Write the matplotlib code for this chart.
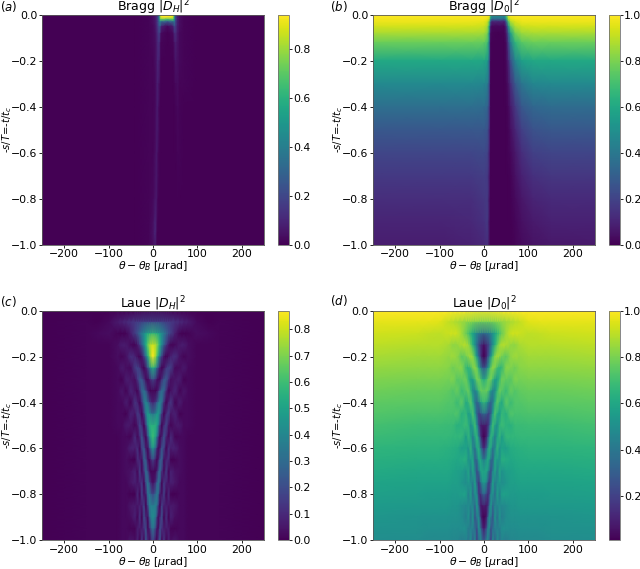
import numpy as np
import matplotlib
matplotlib.use('Agg')
import matplotlib.pyplot as plt

# --- values ---
# Laue panels: half tables, the picture is symmetric about theta=0
laue_x = [0, 4, 8, 12, 16, 20, 25, 30, 35, 40, 50, 60, 70, 80, 100, 125, 150, 250]
laue_t = [0, .05, .1, .15, .2, .25, .3, .35, .4, .45, .5, .55, .6, .65, .7, .75, .8, .85, .9, .95, 1.0]

laue_h = [
    [0, 0, 0, 0, 0, 0, 0, 0, 0, 0, 0, 0, 0, 0, 0, 0, 0, 0],
    [.18, .18, .18, .18, .17, .17, .16, .15, .15, .14, .12, .10, .08, .06, .02, .00, .01, .00],
    [.56, .55, .53, .51, .47, .42, .36, .29, .22, .16, .07, .01, .00, .01, .03, .02, .01, .00],
    [.80, .79, .75, .66, .54, .41, .26, .14, .05, .01, .02, .06, .07, .03, .01, .01, .01, .00],
    [.87, .80, .67, .50, .32, .17, .04, .00, .03, .08, .12, .04, .01, .03, .01, .01, .01, .00],
    [.54, .49, .35, .19, .06, .00, .04, .13, .18, .16, .02, .03, .06, .02, .01, .01, .01, .00],
    [.19, .15, .07, .01, .02, .11, .23, .24, .13, .03, .05, .07, .00, .02, .01, .01, .01, .00],
    [.01, .00, .01, .09, .22, .31, .28, .11, .00, .04, .09, .01, .05, .02, .01, .01, .01, .00],
    [.08, .11, .20, .33, .40, .33, .11, .00, .08, .14, .00, .07, .02, .02, .01, .01, .01, .00],
    [.33, .36, .44, .48, .36, .15, .00, .10, .16, .05, .08, .00, .02, .02, .01, .01, .01, .00],
    [.55, .56, .54, .40, .16, .00, .10, .19, .05, .01, .05, .06, .02, .02, .01, .01, .01, .00],
    [.60, .55, .42, .18, .01, .07, .23, .09, .01, .11, .01, .02, .02, .01, .01, .01, .01, .00],
    [.45, .36, .18, .01, .06, .23, .17, .00, .12, .07, .08, .03, .02, .01, .01, .01, .01, .00],
    [.18, .12, .01, .05, .23, .27, .03, .08, .11, .00, .01, .03, .02, .01, .01, .01, .01, .00],
    [.02, .00, .04, .21, .31, .13, .02, .16, .01, .08, .04, .03, .02, .01, .01, .01, .01, .00],
    [.03, .07, .21, .35, .22, .01, .14, .08, .04, .08, .05, .02, .02, .01, .01, .01, .01, .00],
    [.19, .24, .35, .31, .06, .04, .17, .00, .11, .00, .00, .02, .02, .01, .01, .01, .01, .00],
    [.36, .38, .37, .16, .00, .17, .07, .07, .05, .06, .05, .02, .02, .01, .01, .01, .01, .00],
    [.42, .39, .24, .02, .09, .21, .00, .13, .00, .08, .03, .02, .02, .01, .01, .01, .01, .00],
    [.33, .26, .08, .02, .21, .12, .06, .06, .07, .01, .01, .02, .02, .01, .01, .01, .01, .00],
    [.16, .09, .00, .13, .22, .01, .14, .00, .08, .03, .05, .02, .02, .01, .01, .01, .01, .00],
]

laue_0 = [
    [1, 1, 1, 1, 1, 1, 1, 1, 1, 1, 1, 1, 1, 1, 1, 1, 1, 1],
    [.79, .79, .79, .79, .80, .80, .81, .82, .82, .83, .85, .87, .89, .91, .95, .96, .96, .96],
    [.38, .39, .41, .43, .47, .52, .58, .65, .71, .77, .86, .92, .93, .92, .90, .91, .92, .93],
    [.06, .11, .15, .24, .36, .49, .64, .76, .85, .89, .88, .84, .83, .87, .89, .89, .89, .90],
    [.01, .05, .19, .36, .54, .70, .83, .87, .84, .79, .75, .83, .86, .84, .86, .86, .86, .87],
    [.28, .33, .48, .64, .78, .84, .80, .70, .65, .67, .82, .81, .78, .82, .83, .83, .83, .84],
    [.61, .65, .74, .80, .79, .69, .57, .56, .67, .78, .76, .74, .81, .79, .80, .80, .80, .81],
    [.77, .78, .77, .68, .54, .45, .48, .66, .78, .74, .68, .77, .73, .76, .77, .77, .77, .78],
    [.67, .635, .54, .40, .32, .40, .635, .755, .67, .60, .755, .68, .73, .73, .745, .745, .745, .755],
    [.36, .33, .24, .20, .33, .56, .73, .62, .55, .67, .64, .73, .71, .71, .72, .72, .72, .73],
    [.09, .08, .10, .26, .53, .705, .59, .49, .65, .69, .65, .64, .68, .68, .69, .69, .69, .705],
    [.01, .05, .20, .475, .67, .60, .42, .58, .67, .555, .67, .66, .66, .67, .67, .67, .67, .68],
    [.135, .24, .45, .645, .59, .39, .46, .657, .52, .58, .56, .62, .63, .64, .645, .645, .645, .655],
    [.42, .49, .62, .575, .36, .315, .60, .54, .505, .635, .62, .60, .61, .62, .625, .625, .625, .635],
    [.59, .61, .56, .36, .24, .45, .59, .42, .60, .51, .56, .57, .59, .60, .60, .60, .60, .61],
    [.55, .505, .33, .16, .32, .58, .42, .49, .54, .49, .53, .565, .565, .58, .58, .58, .58, .59],
    [.335, .27, .135, .185, .495, .52, .36, .57, .43, .57, .57, .545, .545, .555, .555, .555, .56, .57],
    [.10, .075, .09, .35, .55, .34, .46, .46, .49, .475, .49, .525, .525, .54, .54, .54, .54, .55],
    [.01, .03, .22, .50, .415, .26, .53, .36, .53, .43, .49, .505, .505, .515, .515, .515, .52, .53],
    [.085, .175, .41, .49, .24, .36, .44, .44, .425, .50, .50, .49, .49, .50, .50, .50, .505, .515],
    [.285, .38, .497, .325, .205, .485, .31, .497, .39, .457, .43, .47, .47, .48, .48, .48, .49, .497],
]

# Bragg reflected
bragg_h_x = [-250, -40, -10, 0, 5, 8, 11, 14, 17, 20, 33, 45, 48, 51, 55, 60, 70, 100, 250]
bragg_h_t = [0, .01, .02, .03, .05, .08, .12, .2, .3, .4, .6, .8, .9, .95, 1.0]
bragg_h = [
    [0, 0, .01, .03, .06, .10, .18, .45, .85, .94, .94, .90, .55, .20, .08, .03, .01, 0, 0],
    [0, 0, .01, .03, .06, .10, .18, .45, .85, .94, .94, .90, .55, .20, .08, .03, .01, 0, 0],
    [0, 0, .01, .03, .06, .10, .18, .40, .70, .72, .65, .70, .50, .20, .08, .03, .01, 0, 0],
    [0, 0, .01, .03, .06, .10, .18, .35, .42, .32, .25, .32, .38, .20, .08, .03, .01, 0, 0],
    [0, 0, .01, .02, .05, .09, .15, .25, .22, .08, .02, .08, .20, .16, .07, .03, .01, 0, 0],
    [0, 0, .01, .02, .04, .07, .12, .18, .08, .02, 0, .02, .10, .12, .06, .02, .01, 0, 0],
    [0, 0, .01, .02, .03, .06, .10, .13, .03, .01, 0, .01, .05, .08, .05, .02, .01, 0, 0],
    [0, 0, .01, .01, .03, .05, .10, .08, .02, 0, 0, 0, .02, .05, .04, .02, .01, 0, 0],
    [0, 0, .01, .01, .02, .05, .08, .04, .01, 0, 0, 0, .01, .02, .03, .01, .01, 0, 0],
    [0, 0, .01, .01, .02, .05, .07, .02, 0, 0, 0, 0, 0, .01, .02, .01, 0, 0, 0],
    [0, 0, .01, .01, .03, .06, .04, .01, 0, 0, 0, 0, 0, 0, .01, .01, 0, 0, 0],
    [0, 0, .01, .02, .05, .06, .02, 0, 0, 0, 0, 0, 0, 0, 0, 0, 0, 0, 0],
    [0, 0, .01, .03, .09, .05, .01, 0, 0, 0, 0, 0, 0, 0, 0, 0, 0, 0, 0],
    [0, 0, .01, .04, .10, .04, 0, 0, 0, 0, 0, 0, 0, 0, 0, 0, 0, 0, 0],
    [0, 0, .01, .03, .06, .02, 0, 0, 0, 0, 0, 0, 0, 0, 0, 0, 0, 0, 0],
]

# Bragg transmitted
bragg_0_x = [-250, -100, -30, 0, 8, 12, 15, 18, 33, 46, 50, 55, 60, 70, 85, 110, 150, 250]
bragg_0_t = [0, .01, .02, .03, .05, .08, .12, .2, .3, .4, .5, .6, .7, .8, .9, 1.0]
bragg_0 = [
    [1, 1, 1, 1, 1, .98, .70, .45, .45, .45, .70, .95, 1, 1, 1, 1, 1, 1],
    [.99, .99, .99, .99, .98, .95, .65, .45, .45, .45, .65, .92, .98, .99, .99, .99, .99, .99],
    [.98, .98, .98, .98, .96, .88, .50, .30, .32, .30, .50, .85, .94, .97, .98, .98, .98, .98],
    [.97, .97, .97, .96, .92, .75, .30, .10, .10, .10, .30, .72, .88, .94, .97, .97, .97, .97],
    [.93, .93, .93, .92, .86, .60, .12, .02, .02, .02, .12, .50, .76, .88, .92, .93, .93, .93],
    [.87, .87, .87, .86, .79, .48, .05, .01, 0, .01, .06, .30, .56, .78, .85, .87, .87, .87],
    [.77, .77, .77, .76, .70, .40, .03, 0, 0, 0, .03, .20, .42, .65, .74, .77, .77, .77],
    [.60, .60, .60, .59, .55, .32, .02, 0, 0, 0, .02, .10, .25, .45, .56, .595, .60, .60],
    [.47, .47, .47, .46, .42, .24, .01, 0, 0, 0, .01, .05, .13, .27, .39, .46, .47, .47],
    [.36, .36, .36, .35, .32, .18, .01, 0, 0, 0, 0, .02, .07, .16, .27, .33, .35, .35],
    [.27, .27, .27, .27, .25, .13, .01, 0, 0, 0, 0, .01, .04, .10, .19, .25, .27, .27],
    [.21, .21, .21, .22, .20, .10, 0, 0, 0, 0, 0, .01, .02, .06, .13, .19, .205, .205],
    [.165, .165, .165, .18, .17, .08, 0, 0, 0, 0, 0, 0, .01, .04, .09, .14, .16, .16],
    [.13, .13, .13, .16, .17, .06, 0, 0, 0, 0, 0, 0, .005, .025, .06, .10, .12, .12],
    [.10, .10, .11, .14, .17, .05, 0, 0, 0, 0, 0, 0, 0, .015, .04, .07, .09, .09],
    [.08, .08, .09, .11, .14, .04, 0, 0, 0, 0, 0, 0, 0, .01, .03, .05, .065, .07],
]

titles = [r'Bragg $|D_H|^2$', r'Bragg $|D_0|^2$', r'Laue $|D_H|^2$', r'Laue $|D_0|^2$']
tags = ['$(a)$', '$(b)$', '$(c)$', '$(d)$']
clims = [(0, .94), (0, 1), (0, .87), (.01, 1)]
cticks = [[0, .2, .4, .6, .8], [0, .2, .4, .6, .8, 1],
          [0, .1, .2, .3, .4, .5, .6, .7, .8], [.2, .4, .6, .8, 1]]


def mirror(x, z):
    # tables above only hold theta >= 0
    z = np.array(z)
    return np.r_[-np.array(x[:0:-1]), x], np.c_[z[:, :0:-1], z]


lx, lh = mirror(laue_x, laue_h)
lx0, l0 = mirror(laue_x, laue_0)
fields = [(bragg_h_x, bragg_h_t, bragg_h), (bragg_0_x, bragg_0_t, bragg_0),
          (lx, laue_t, lh), (lx0, laue_t, l0)]

W, H = 640., 569.
lefts = [42, 373, 42, 373]
tops = [15, 15, 310.7, 310.7]
tag_pos = [(0, 7), (330, 7), (0, 302), (330, 301)]
aw, ah = 222., 229.5

plt.rcParams['font.size'] = 7.8
fig = plt.figure(figsize=(6.4, 5.69), dpi=100)
for i in range(4):
    ax = fig.add_axes([lefts[i]/W, 1-(tops[i]+ah)/H, aw/W, ah/H])
    x, t, z = fields[i]
    m = ax.pcolormesh(x, -np.array(t), np.array(z), cmap='viridis', shading='gouraud',
                      vmin=clims[i][0], vmax=clims[i][1], rasterized=True)
    ax.set_xlim(-250, 250)
    ax.set_ylim(-1, 0)
    ax.set_xticks([-200, -100, 0, 100, 200])
    ax.set_yticks([-1, -.8, -.6, -.4, -.2, 0])
    ax.set_xlabel(r'$\theta-\theta_B$ [$\mu$rad]', labelpad=0, fontsize=7.8)
    ax.set_ylabel(r'-$s/T$=-$t/t_c$', labelpad=-2, fontsize=7.2)
    # set_title pushes itself above the axes, so place it by hand
    ax.text(.5, 1+3.3/ah, titles[i], transform=ax.transAxes, ha='center', va='baseline', fontsize=9.0)
    ax.tick_params(length=2, width=.6, pad=1.5)
    for sp in ax.spines.values():
        sp.set_linewidth(.6)
        sp.set_color('0.35')
    cax = fig.add_axes([(lefts[i]+235.5)/W, 1-(tops[i]+ah)/H, 11.5/W, ah/H])
    cb = fig.colorbar(m, cax=cax, ticks=cticks[i])
    cb.ax.tick_params(length=2, width=.6, pad=1)
    cb.outline.set_linewidth(.6)
    cb.outline.set_edgecolor('0.45')
    fig.text(tag_pos[i][0]/W, 1-tag_pos[i][1]/H, tags[i], fontsize=8.5, va='center', ha='left')

fig.savefig('out.png', dpi=100)
